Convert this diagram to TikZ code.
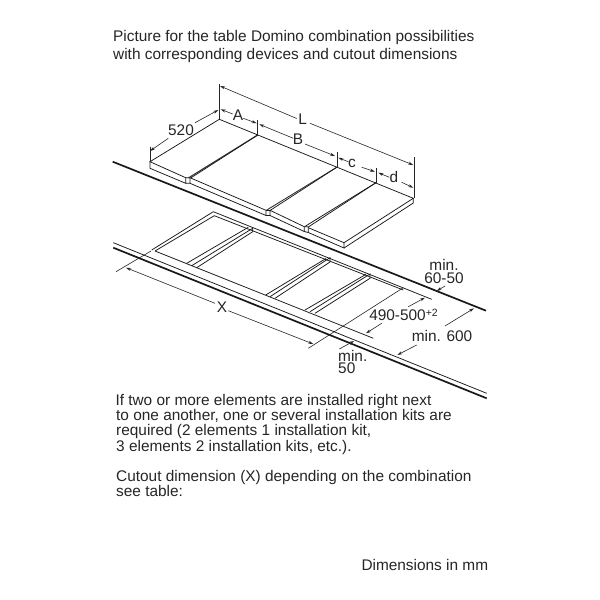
\documentclass[tikz,border=0pt]{standalone}
\usepackage{fontspec}
\setmainfont{Liberation Sans}
\usetikzlibrary{arrows.meta}
\tikzset{
  x=1pt,y=-1pt,
  thinl/.style={line width=0.75pt,black!90},
  heavy/.style={line width=1.7pt,black!90},
  dimn/.style={line width=0.6pt,black!85},
  tip/.style={-{Stealth[length=5pt,width=3pt]}},
  label/.style={inner sep=0pt,font=\fontsize{15.4}{15.4}\selectfont,text=black!85},
  para/.style={inner sep=0pt,anchor=base west,font=\fontsize{15.4}{15.4}\selectfont,text=black!85},
}
\begin{document}
\begin{tikzpicture}
\useasboundingbox (0,0) rectangle (600,600);
\fill[white] (0,0) rectangle (600,600);
% texts
\node[para] (t1) at (113,41.7) {Picture for the table Domino combination possibilities};
\node[para] (t2) at (113,59.3) {with corresponding devices and cutout dimensions};
\node[para] (p1) at (115.3,405) {If two or more elements are installed right next};
\node[para] (p2) at (116,420.3) {to one another, one or several installation kits are};
\node[para] (p3) at (116,435.7) {required (2 elements 1 installation kit,};
\node[para] (p4) at (116,451) {3 elements 2 installation kits, etc.).};
\node[para] (p5) at (116,481) {Cutout dimension (X) depending on the combination};
\node[para] (p6) at (116,496.3) {see table:};
\node[para] (t3) at (361.3,570.7) {Dimensions in mm};
% panels
\draw[thinl] (185.7,177.7) -- (150,161.7) -- (219.3,119.3) -- (413.3,198.3) -- (344,242.7) -- (308.3,227.7);
\draw[thinl] (150,161.7) -- (150,168.3) -- (185.7,183.3) -- (185.7,177.7) -- (190,177.7) -- (190,183.3) -- (185.7,183.3);
\draw[thinl] (190,177.7) -- (266,210.3) -- (266,215.5) -- (190,183.3);
\draw[thinl] (266,215.5) -- (270,215.5) -- (270,210.3) -- (304.3,226.7);
\draw[thinl] (266,210.3) -- (270,210.3);
\draw[thinl] (270,215.5) -- (304.3,231.5);
\draw[thinl] (308.3,226.9) -- (308.3,232.5) -- (344,248) -- (344,242.7);
\draw[thinl] (344,248) -- (413.3,203) -- (413.3,198.3);
\draw[thinl] (304.3,226.7) -- (304.3,231.5) -- (308.3,232.5);
\draw[thinl] (304.3,226.7) -- (308.3,226.9);
% dividers
\draw[line width=1.1pt,black!80] (257.7,135) -- (188.3,178);
\draw[thinl] (257.7,135) -- (190.7,178);
\draw[line width=0.9pt,black!80] (336.7,167.3) -- (266,210.5);
\draw[thinl] (336.7,167.3) -- (270,210.5);
\draw[thinl] (376,182.7) -- (304.5,226.7);
\draw[thinl] (376,182.7) -- (308.3,227);
% counter back
\draw[heavy] (112.7,161.7) -- (486,310.7);
% cutout
\draw[thinl] (431.7,299.3) -- (213.3,211.7) -- (151.7,250);
\draw[thinl] (155,251) -- (214.3,215.7) -- (403.3,290);
\draw[thinl] (155,251) -- (373.3,338.3);
\draw[thinl] (186.7,263.3) -- (248.3,227.3);
\draw[thinl] (191.7,265.7) -- (252.7,228.3) -- (252.7,231.7) -- (196.7,267.7);
\draw[thinl] (265.7,295) -- (326,258.5);
\draw[thinl] (270,296.7) -- (330,257.7) -- (330,262) -- (275,298.3);
\draw[thinl] (305,310) -- (366,274.3);
\draw[thinl] (310,311.7) -- (370,274) -- (370,278.3) -- (315,313.3);
% extension lines
\draw[dimn] (403.3,287.7) -- (308.3,348.3);
\draw[dimn] (151,251) -- (116,271.7);
% counter front
\draw[thinl] (113.3,242.7) -- (486.7,393.3);
\draw[heavy] (113.3,247.7) -- (486.7,398.3);
% top dimensions
\draw[dimn] (219.3,84.3) -- (219.3,119.3);
\draw[dimn] (414.3,157.3) -- (414.3,198.3);
\draw[dimn] (257.7,120) -- (257.7,135);
\draw[dimn] (337,152.3) -- (337,167.3);
\draw[dimn] (376.3,167.7) -- (376.3,182.7);
\draw[dimn] (150,146.7) -- (150,161.7);
\draw[dimn,tip] (168.3,138.3) -- (150,151);
\draw[dimn,tip] (195,122.7) -- (218.3,110);
\draw[dimn,tip] (232.7,114) -- (220.7,109.3);
\draw[dimn,tip] (243.3,118.3) -- (256.7,123.3);
\draw[dimn,tip] (293.3,138.3) -- (259.3,124.3);
\draw[dimn,tip] (305,144) -- (335,156);
\draw[dimn,tip] (348.3,161.7) -- (338.3,157.7);
\draw[dimn,tip] (361.7,167.3) -- (375,171.7);
\draw[dimn,tip] (389.3,177.3) -- (378.3,172.7);
\draw[dimn,tip] (401.7,182.3) -- (413.3,187.7);
\draw[dimn,tip] (296.7,118.5) -- (220,86);
\draw[dimn,tip] (310,123.3) -- (413.3,165);
% lower dimensions
\draw[dimn,tip] (215,303.3) -- (126,267.7);
\draw[dimn,tip] (228.3,310.7) -- (313.3,344);
\draw[dimn,tip] (381.7,323.3) -- (366,333.3);
\draw[dimn,tip] (408.3,306.7) -- (425,297.7);
\draw[dimn,tip] (339.3,349) -- (354,341);
\draw[dimn,tip] (416.7,345) -- (397.3,355);
\draw[dimn,tip] (445,326) -- (474,308.3);
\draw[dimn,tip] (445,286) -- (436.7,291);
% labels
\node[label] (l520) at (181,130) {520};
\node[label] (la) at (238,115) {A};
\node[label] (lb) at (298,139) {B};
\node[label] (ll) at (302.7,119) {L};
\node[label] (lc) at (352,163) {c};
\node[label] (ld) at (394,177) {d};
\node[label] (lx) at (222,307) {X};
\node[label] (lm) at (444,265) {min.};
\node[label] (ln) at (444,278) {60-50};
\node[label] (lo) at (403.5,315) {490-500\raisebox{3.5pt}{\fontsize{10.5}{10.5}\selectfont +2}};
\node[label] (lp) at (442,336) {min. 600};
\node[label,anchor=west] (lq) at (338,356) {min.};
\node[label,anchor=west] (lr) at (338,368.5) {50};
\end{tikzpicture}
\end{document}
